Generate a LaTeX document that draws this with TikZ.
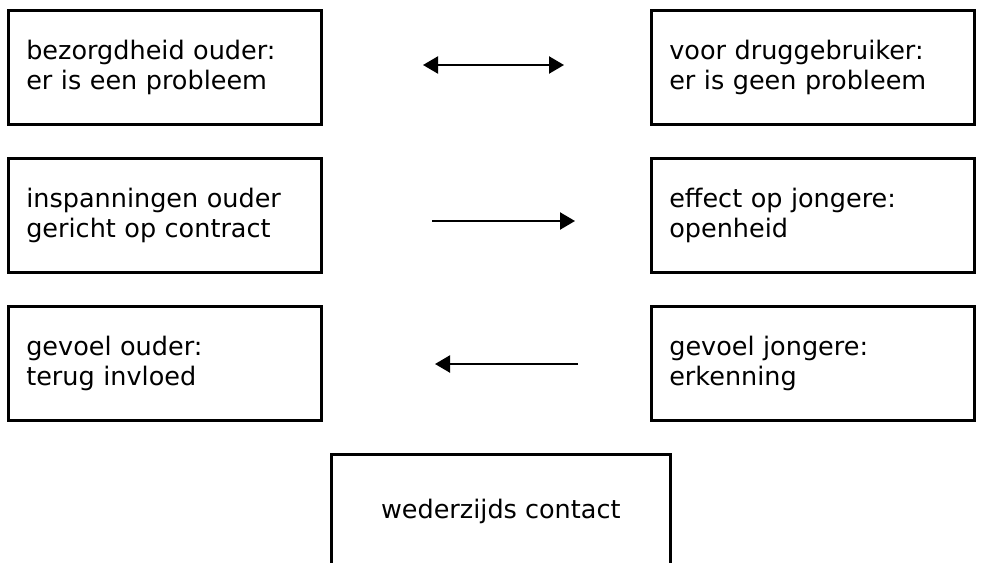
\documentclass[tikz,border=0pt]{standalone}
\usepackage{fontspec}
\setmainfont{DejaVu Sans}
\usetikzlibrary{arrows.meta}
\begin{document}
\begin{tikzpicture}[x=1pt,y=-1pt,
  box/.style={draw=black, line width=2.6pt, rectangle, minimum width=313pt, minimum height=114pt,
    inner xsep=18pt, text width=277pt, align=left, font=\fontsize{25.5}{30}\selectfont, anchor=north west},
  midbox/.style={draw=black, line width=2.6pt, rectangle, minimum width=339pt, minimum height=114pt,
    align=center, font=\fontsize{25.5}{30}\selectfont, anchor=north west},
  tip/.style={Triangle[length=15pt,width=17pt]},
  link/.style={line width=2.2pt, -{Triangle[length=15pt,width=17pt]}},
  both/.style={line width=2.2pt, {Triangle[length=15pt,width=17pt]}-{Triangle[length=15pt,width=17pt]}}]
\useasboundingbox (0,0) rectangle (981,562);
\clip (0,0) rectangle (981,562);
% left column
\node[box] (l1) at (7,9) {bezorgdheid ouder:\\er is een probleem};
\node[box] (l2) at (7,157) {inspanningen ouder\\gericht op contract};
\node[box] (l3) at (7,305) {gevoel ouder:\\terug invloed};
% right column
\node[box, minimum width=323pt, text width=287pt] (r1) at (650,9) {voor druggebruiker:\\er is geen probleem};
\node[box, minimum width=323pt, text width=287pt] (r2) at (650,157) {effect op jongere:\\openheid};
\node[box, minimum width=323pt, text width=287pt] (r3) at (650,305) {gevoel jongere:\\erkenning};
% bottom box, running off the lower edge
\node[midbox] (m) at (330,453) {wederzijds contact};
% arrow end points between the columns
\coordinate (a1) at (423,65);
\coordinate (b1) at (564,65);
\coordinate (a2) at (432,221);
\coordinate (b2) at (575,221);
\coordinate (a3) at (578,364);
\coordinate (b3) at (435,364);
\draw[both] (a1) -- (b1);
\draw[link] (a2) -- (b2);
\draw[link] (a3) -- (b3);
\end{tikzpicture}
\end{document}
